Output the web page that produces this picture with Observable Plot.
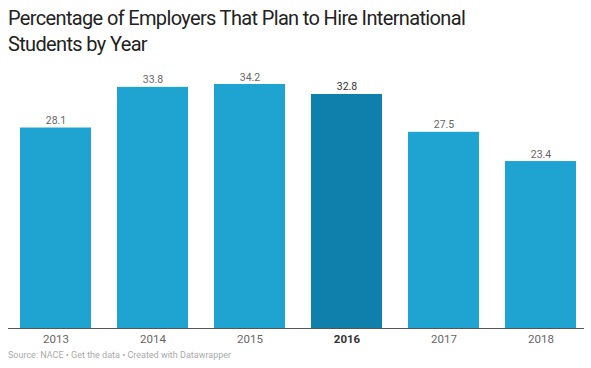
<!DOCTYPE html>
<html>
<head>
<meta charset="utf-8">
<script src="https://cdn.jsdelivr.net/npm/d3@7"></script>
<script src="https://cdn.jsdelivr.net/npm/@observablehq/plot@0.6"></script>
<style>
  html, body { margin: 0; padding: 0; background: #fff; }
  #wrap { position: relative; width: 591px; height: 368px; font-family: Roboto, "Noto Sans", sans-serif; }
  #title { position: absolute; left: 8px; top: 5px; font-size: 20px; line-height: 26px; color: #222; letter-spacing: -0.65px; }
  #chart { position: absolute; left: 0; top: 60px; }
  #source { position: absolute; left: 8px; top: 350px; font-size: 9px; color: #aaa; }
</style>
</head>
<body>
<div id="wrap">
  <div id="title">Percentage of Employers That Plan to Hire International<br>Students by Year</div>
  <div id="chart"></div>
  <div id="source">Source: NACE • Get the data • Created with Datawrapper</div>
</div>
<script>
const years = ["2013", "2014", "2015", "2016", "2017", "2018"];
const values = [28.1, 33.8, 34.2, 32.8, 27.5, 23.4];
const highlight = "2016";

const data = years.map((y, i) => ({year: y, value: values[i], hl: y === highlight}));

const chart = Plot.plot({
  width: 591,
  height: 290,
  marginTop: 24,
  marginBottom: 22,
  marginLeft: 6,
  marginRight: 0,
  style: {fontFamily: "Roboto, 'Noto Sans', sans-serif", background: "transparent"},
  x: {domain: years, paddingInner: 0.264, paddingOuter: 0.132, label: null},
  y: {domain: [0, 34.2], axis: null},
  marks: [
    Plot.barY(data, {x: "year", y: "value", fill: d => d.hl ? "#0e80ab" : "#1fa3d1"}),
    Plot.ruleY([0], {stroke: "#555", strokeWidth: 1, insetLeft: 2, insetRight: 7}),
    Plot.text(data, {x: "year", y: "value", text: d => d.value.toFixed(1), dy: -4, lineAnchor: "bottom",
      fontSize: 10.5, fill: d => d.hl ? "#333" : "#666", fontWeight: d => d.hl ? "bold" : "normal"}),
    Plot.axisX({ticks: years.filter(y => y !== highlight), tickSize: 0, tickPadding: 6, fontSize: 11.5, fill: "#666"}),
    Plot.axisX({ticks: [highlight], tickSize: 0, tickPadding: 6, fontSize: 11.5, fill: "#333", fontWeight: "bold"})
  ]
});
document.getElementById("chart").appendChild(chart);
</script>
</body>
</html>
